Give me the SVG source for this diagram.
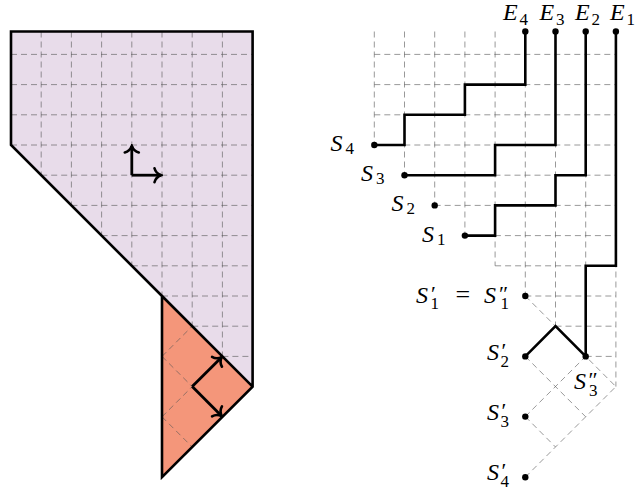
<svg xmlns="http://www.w3.org/2000/svg" width="638" height="498" viewBox="0 0 638 498">
<style>
.grid{stroke:#555;stroke-opacity:0.6;stroke-width:1;stroke-dasharray:6 4;fill:none}
.thick{stroke:#000;stroke-width:2.6;fill:none;stroke-linejoin:miter}
.arr{stroke:#000;stroke-width:2.8;fill:none;marker-end:url(#tip)}
.dot{fill:#000}
</style>
<defs>
<marker id="tip" viewBox="-10 -10 12 20" refX="0" refY="0" markerWidth="12" markerHeight="20" orient="auto" markerUnits="userSpaceOnUse">
<path d="M-6.5,-7 C-5.5,-3 -1.8,-0.7 0,0 C-1.8,0.7 -5.5,3 -6.5,7" stroke="#000" stroke-width="2.6" fill="none" stroke-linecap="round"/>
</marker>
</defs>
<rect width="638" height="498" fill="#fff"/>

<g id="left-figure">
<g id="purple-region">
<path d="M11,31.5 H252.6 V386.6 L11,145 Z" fill="#E8DCEA"/>
<path class="grid" d="M41.2,31.5 V175.2 M71.4,31.5 V205.4 M101.6,31.5 V235.6 M131.8,31.5 V265.8 M162,31.5 V296 M192.2,31.5 V326.2 M222.4,31.5 V356.4
M11,54.4 H252.6 M11,84.6 H252.6 M11,114.8 H252.6 M11,145 H252.6 M41.2,175.2 H252.6 M71.4,205.4 H252.6 M101.6,235.6 H252.6 M131.8,265.8 H252.6 M162,296 H252.6 M192.2,326.2 H252.6 M222.4,356.4 H252.6"/>
</g>
<g id="orange-region">
<path d="M162,296 L252.6,386.6 L162,477.2 Z" fill="#F4967A"/>
<path class="grid" d="M162,356.4 L222.4,416.8 M162,416.8 L192.2,447 M162,356.4 L192.2,326.2 M162,416.8 L222.4,356.4"/>
</g>
<path class="thick" d="M162,296 L11,145 V31.5 H252.6 V386.6 L162,477.2 Z M162,296 L252.6,386.6"/>
<g id="arrows-purple">
<path class="arr" d="M131.8,175.2 V146"/>
<path class="arr" d="M131.8,175.2 H161"/>
</g>
<g id="arrows-orange">
<path class="arr" d="M192.2,386.6 L221.6,357.2"/>
<path class="arr" d="M192.2,386.6 L221.6,416"/>
</g>
</g>

<g id="right-grid">
<path class="grid" d="M374.3,31.5 V145 M404.5,31.5 V175.2 M434.7,31.5 V205.4 M464.9,31.5 V235.6 M495.1,31.5 V265.8 M525.3,31.5 V296 M555.5,31.5 V326.2 M585.7,31.5 V356.4 M615.9,31.5 V386.6
M374.3,54.4 H615.9 M374.3,84.6 H615.9 M374.3,114.8 H615.9 M374.3,145 H615.9 M404.5,175.2 H615.9 M434.7,205.4 H615.9 M464.9,235.6 H615.9 M495.1,265.8 H615.9 M525.3,296 H615.9 M555.5,326.2 H615.9 M585.7,356.4 H615.9
M525.3,296 L615.9,386.6 M525.3,356.4 L585.7,416.8 M525.3,416.6 L555.5,447
M525.3,356.4 L555.5,326.2 M525.3,416.6 L585.7,356.4 M525.3,477.2 L615.9,386.6"/>
</g>

<g id="connectors">
<path class="thick" d="M374.3,145 H404.5 V114.8 H464.9 V84.6 H525.3 V31.5"/>
<path class="thick" d="M404.5,175.2 H495.1 V145 H555.5 V31.5"/>
<path class="thick" d="M464.9,235.6 H495.1 V205.4 H555.5 V175.2 H585.7 V31.5"/>
<path class="thick" d="M615.9,31.5 V265.8 H585.7 V356.4 L555.5,326.2 L525.3,356.4"/>
</g>

<g id="nodes" font-family="'Liberation Serif','DejaVu Serif',serif" font-size="24" fill="#000">
<g id="node-E4"><circle class="dot" cx="525.3" cy="31.5" r="3.2"/><text><tspan font-style="italic" x="503" y="19.5">E</tspan><tspan font-size="17" x="519.5" y="24.5">4</tspan></text></g>
<g id="node-E3"><circle class="dot" cx="555.5" cy="31.5" r="3.2"/><text><tspan font-style="italic" x="539.5" y="19.5">E</tspan><tspan font-size="17" x="556" y="24.5">3</tspan></text></g>
<g id="node-E2"><circle class="dot" cx="585.7" cy="31.5" r="3.2"/><text><tspan font-style="italic" x="575" y="19.5">E</tspan><tspan font-size="17" x="591.5" y="24.5">2</tspan></text></g>
<g id="node-E1"><circle class="dot" cx="615.9" cy="31.5" r="3.2"/><text><tspan font-style="italic" x="610" y="19.5">E</tspan><tspan font-size="17" x="626.5" y="24.5">1</tspan></text></g>

<g id="node-S4"><circle class="dot" cx="374.3" cy="145" r="3.2"/><text><tspan font-style="italic" x="330.5" y="151">S</tspan><tspan font-size="17" x="345.5" y="154">4</tspan></text></g>
<g id="node-S3"><circle class="dot" cx="404.5" cy="175.2" r="3.2"/><text><tspan font-style="italic" x="361" y="181.2">S</tspan><tspan font-size="17" x="376" y="184.2">3</tspan></text></g>
<g id="node-S2"><circle class="dot" cx="434.7" cy="205.4" r="3.2"/><text><tspan font-style="italic" x="391.5" y="211.4">S</tspan><tspan font-size="17" x="406.5" y="214.4">2</tspan></text></g>
<g id="node-S1"><circle class="dot" cx="464.9" cy="235.6" r="3.2"/><text><tspan font-style="italic" x="422" y="241.6">S</tspan><tspan font-size="17" x="437" y="244.6">1</tspan></text></g>

<g id="node-S1p"><circle class="dot" cx="525.3" cy="296" r="3.2"/><text><tspan font-style="italic" x="416" y="302.5">S</tspan><tspan font-size="22" x="431" y="300.5">′</tspan><tspan font-size="17" x="430.5" y="309">1</tspan><tspan font-size="26" x="455.5" y="303">=</tspan><tspan font-style="italic" x="484" y="302.5">S</tspan><tspan font-size="22" x="499" y="300.5">″</tspan><tspan font-size="17" x="500.5" y="309">1</tspan></text></g>
<g id="node-S2p"><circle class="dot" cx="525.3" cy="356.4" r="3.2"/><text><tspan font-style="italic" x="487" y="360">S</tspan><tspan font-size="22" x="501.5" y="358">′</tspan><tspan font-size="17" x="500.5" y="366.5">2</tspan></text></g>
<g id="node-S3pp"><circle class="dot" cx="585.7" cy="356.4" r="3.2"/><text><tspan font-style="italic" x="574" y="389">S</tspan><tspan font-size="22" x="588.5" y="387">″</tspan><tspan font-size="17" x="589" y="395.5">3</tspan></text></g>
<g id="node-S3p"><circle class="dot" cx="525.3" cy="416.6" r="3.2"/><text><tspan font-style="italic" x="487" y="420.2">S</tspan><tspan font-size="22" x="501.5" y="418.2">′</tspan><tspan font-size="17" x="500.5" y="426.7">3</tspan></text></g>
<g id="node-S4p"><circle class="dot" cx="525.3" cy="477.2" r="3.2"/><text><tspan font-style="italic" x="487" y="480.4">S</tspan><tspan font-size="22" x="501.5" y="478.4">′</tspan><tspan font-size="17" x="500.5" y="486.9">4</tspan></text></g>
</g>
</svg>
